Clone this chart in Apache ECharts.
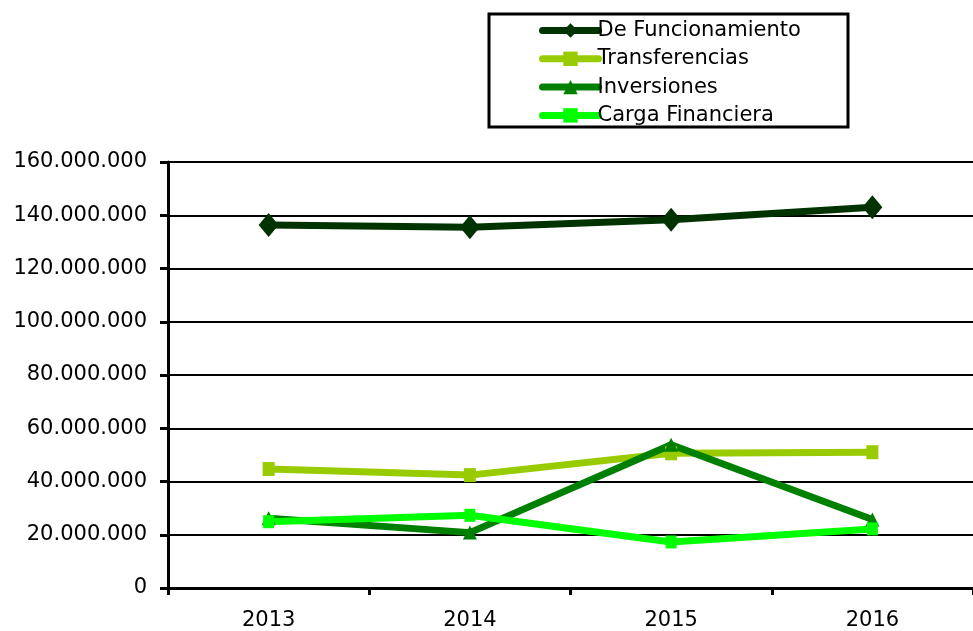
<!DOCTYPE html>
<html>
	<head>
		<meta charset="utf-8">
		<script src="https://cdn.jsdelivr.net/npm/echarts@6/dist/echarts.min.js"></script>
		<style>
			html, body { margin: 0; padding: 0; background: #fff; }
			#main { width: 973px; height: 631px; }
		</style>
	</head>
	<body>
		<div id="main"></div>
		<script>
			var years = ['2013', '2014', '2015', '2016'];
			var funcionamiento = [136300000, 135500000, 138300000, 143000000];
			var transferencias = [44700000, 42400000, 50600000, 51000000];
			var inversiones = [26200000, 20800000, 53800000, 25700000];
			var cargaFinanciera = [24900000, 27300000, 17300000, 22200000];
			var seriesNames = ['De Funcionamiento', 'Transferencias', 'Inversiones', 'Carga Financiera'];

			var fontName = 'DejaVu Sans';

			// miles con punto: 160.000.000
			function fmt(v){
				return String(v).replace(/\B(?=(\d{3})+(?!\d))/g, '.');
			}

			function serie(name, data, color, symbol, size){
				return {
					name: name,
					type: 'line',
					data: data,
					symbol: symbol,
					symbolSize: size,
					lineStyle: { color: color, width: 7 },
					itemStyle: { color: color },
					emphasis: { disabled: true }
				};
			}

			var option = {
				animation: false,
				graphic: [{
					type: 'rect',
					shape: { x: 489, y: 14, width: 359, height: 113 },
					style: { fill: 'none', stroke: '#000', lineWidth: 3 },
					z: 10
				}],
				legend: {
					left: 539,
					top: 20,
					orient: 'vertical',
					itemWidth: 56,
					itemHeight: 18,
					itemGap: 7.3,
					padding: 0,
					lineStyle: { width: 7, cap: 'round' },
					textStyle: { fontFamily: fontName, fontSize: 21, color: '#000', padding: [0, 0, 0, -6], lineHeight: 18 },
					data: seriesNames
				},
				grid: {
					left: 168,
					right: -7,
					top: 162,
					bottom: 42
				},
				xAxis: {
					type: 'category',
					data: years,
					boundaryGap: true,
					axisLine: { lineStyle: { color: '#000', width: 3 } },
					axisTick: { show: true, length: 7, lineStyle: { color: '#000', width: 3 } },
					axisLabel: { color: '#000', fontFamily: fontName, fontSize: 21, margin: 22 },
					splitLine: { show: false }
				},
				yAxis: {
					type: 'value',
					min: 0,
					max: 160000000,
					interval: 20000000,
					axisLine: { show: true, lineStyle: { color: '#000', width: 3 } },
					axisTick: { show: true, length: 8, lineStyle: { color: '#000', width: 3 } },
					axisLabel: {
						color: '#000', fontFamily: fontName, fontSize: 21, margin: 21,
						formatter: function(v){ return fmt(v); }
					},
					splitLine: { show: true, lineStyle: { color: '#000', width: 2 } }
				},
				series: [
					serie(seriesNames[0], funcionamiento, '#003300', 'diamond', [20, 24]),
					serie(seriesNames[1], transferencias, '#99CC00', 'rect', [12, 14]),
					serie(seriesNames[2], inversiones, '#008000', 'triangle', [14, 14]),
					serie(seriesNames[3], cargaFinanciera, '#00FF00', 'rect', [11, 13])
				]
			};
			var myChart = echarts.init(document.getElementById('main'));
			myChart.setOption(option, true);
		</script>
	</body>
</html>
